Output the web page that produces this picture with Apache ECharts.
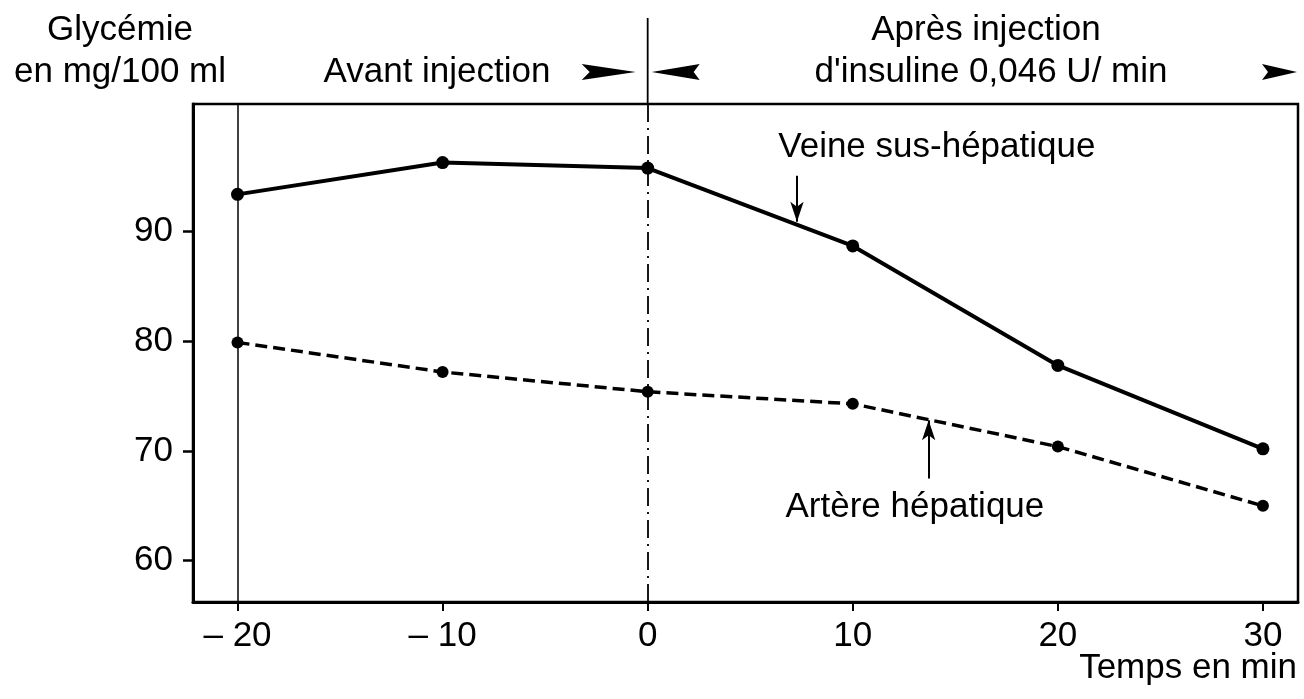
<!DOCTYPE html>
<html>
<head>
<meta charset="utf-8">
<script src="https://cdn.jsdelivr.net/npm/echarts@6/dist/echarts.min.js"></script>
<style>
  html, body { margin:0; padding:0; background:#fff; }
  #chart { width:1304px; height:699px; }
</style>
</head>
<body>
<div id="chart"></div>
<script>
// data
const times  = [-20, -10, 0, 10, 20, 30];
const veine  = [93.4, 96.3, 95.8, 88.7, 77.8, 70.2];
const artere = [79.9, 77.2, 75.4, 74.3, 70.4, 65.0];
const xTicks = [-20, -10, 0, 10, 20, 30];
const yTicks = [60, 70, 80, 90];

const FONT = 'Liberation Sans, Arial, Helvetica, sans-serif';
const FS = 35;

const c = echarts.init(document.getElementById('chart'));

c.setOption({
  animation: false,
  grid: { left:193, top:104, width:1105, height:498, show:true, borderColor:'#000', borderWidth:2.5, backgroundColor:'transparent' },
  xAxis: {
    type:'value', min:-22.17, max:31.71,
    axisLine:{ onZero:false, lineStyle:{ color:'#000', width:3 } },
    axisTick:{ customValues:xTicks, length:9, lineStyle:{ color:'#000', width:2 } },
    axisLabel:{ customValues:xTicks, margin:17, color:'#000', fontSize:FS, fontFamily:FONT,
      formatter: v => v < 0 ? '\u2013 ' + Math.abs(v) : String(v) },
    splitLine:{ show:false }
  },
  yAxis: {
    type:'value', min:56.23, max:101.64,
    axisLine:{ onZero:false, lineStyle:{ color:'#000', width:3 } },
    axisTick:{ customValues:yTicks, length:10, lineStyle:{ color:'#000', width:2.5 } },
    axisLabel:{ customValues:yTicks, margin:20, color:'#000', fontSize:FS, fontFamily:FONT },
    splitLine:{ show:false }
  },
  series: [
    {
      name:'Veine sus-hépatique', type:'line',
      data: times.map((t,i)=>[t, veine[i]]),
      symbol:'circle', symbolSize:13,
      itemStyle:{ color:'#000' },
      lineStyle:{ color:'#000', width:4 },
      markLine:{
        silent:true, symbol:['none','none'], label:{ show:false },
        data:[
          { xAxis:-20, lineStyle:{ color:'#000', width:1.5, type:'solid' } },
          { xAxis:0, lineStyle:{ color:'#000', width:1.8, type:[18,6,2,6] } }
        ]
      }
    },
    {
      name:'Artère hépatique', type:'line',
      data: times.map((t,i)=>[t, artere[i]]),
      symbol:'circle', symbolSize:12,
      itemStyle:{ color:'#000' },
      lineStyle:{ color:'#000', width:3.5, type:[12,6] },
      markLine:{
        silent:true, symbol:['none','arrow'], symbolSize:[10,20], label:{ show:false },
        lineStyle:{ color:'#000', width:2, type:'solid' },
        data:[
          [ { coord:[7.28, 95.1] }, { coord:[7.28, 90.9] } ],
          [ { coord:[13.7, 67.5] }, { coord:[13.7, 72.8] } ]
        ]
      }
    }
  ]
});

// annotations around the plot
const x0 = c.convertToPixel({ xAxisIndex:0 }, 0);
const pv = c.convertToPixel({ gridIndex:0 }, [14.1, 97.7]);
const pa = c.convertToPixel({ gridIndex:0 }, [13.03, 64.9]);
const txt = (x, y, s, align) => ({
  type:'text', x, y,
  style:{ text:s, fill:'#000', font: FS + 'px ' + FONT, textAlign:align || 'center', textVerticalAlign:'middle' }
});
const tri = (pts) => ({ type:'polygon', shape:{ points:pts }, style:{ fill:'#000' } });

c.setOption({
  graphic: [
    { type:'line', shape:{ x1:x0, y1:18, x2:x0, y2:104 }, style:{ stroke:'#000', lineWidth:1.8 } },
    txt(120, 30, 'Glycémie'),
    txt(120, 72, 'en mg/100 ml'),
    txt(437, 72, 'Avant injection'),
    txt(986, 30, 'Après injection'),
    txt(991, 72, 'd\'insuline 0,046 U/ min'),
    tri([[x0-66,64],[x0-12,72],[x0-66,80],[x0-58,72]]),
    tri([[x0+52,64],[x0+4,72],[x0+52,80],[x0+46,72]]),
    tri([[1262,64],[1297,72],[1262,80],[1268,72]]),
    txt(pv[0], pv[1], 'Veine sus-hépatique'),
    txt(pa[0], pa[1], 'Artère hépatique'),
    txt(1297, 668, 'Temps en min', 'right')
  ]
});
</script>
</body>
</html>
